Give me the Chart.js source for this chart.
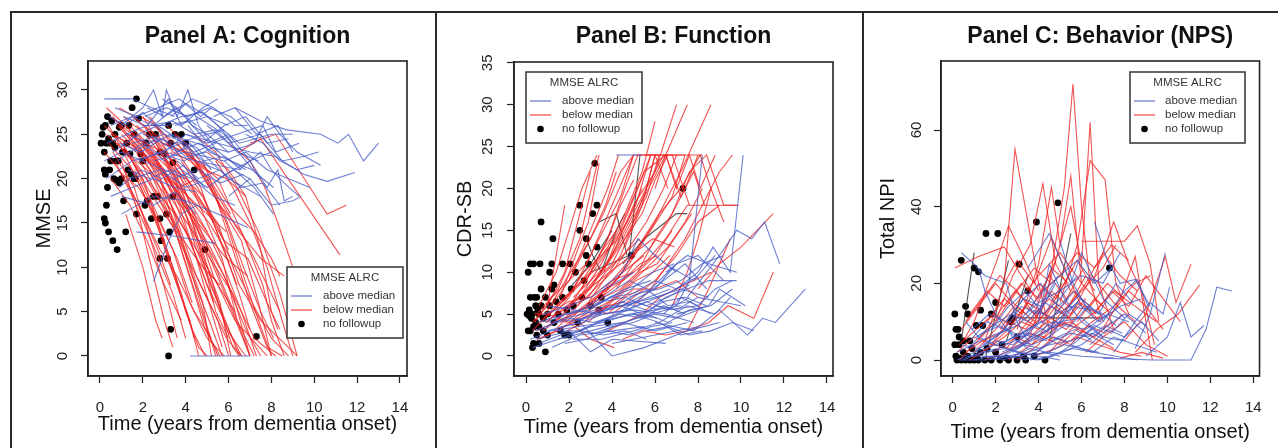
<!DOCTYPE html>
<html><head><meta charset="utf-8">
<script src="https://cdn.jsdelivr.net/npm/chart.js@4.4.1/dist/chart.umd.min.js"></script>
<style>
html,body{margin:0;padding:0;background:#fff;}
#wrap{position:relative;width:1278px;height:448px;overflow:hidden;background:#fff;}
canvas{position:absolute;top:0;}
.fr{position:absolute;background:#2a2a2a;}
</style></head><body>
<div id="wrap">
<canvas id="cA" width="435" height="448" style="left:0px"></canvas>
<canvas id="cB" width="425" height="448" style="left:437px"></canvas>
<canvas id="cC" width="414" height="448" style="left:864px"></canvas>
<div class="fr" style="left:10px;top:11px;width:1268px;height:2px"></div>
<div class="fr" style="left:10px;top:11px;width:2px;height:437px"></div>
<div class="fr" style="left:435px;top:11px;width:2px;height:437px"></div>
<div class="fr" style="left:862px;top:11px;width:2px;height:437px"></div>
</div>
<script>
// ---------- tick labels ----------
const xTicks = [0, 2, 4, 6, 8, 10, 12, 14];
const yTicksA = [0, 5, 10, 15, 20, 25, 30];
const yTicksB = [0, 5, 10, 15, 20, 25, 30, 35];
const yTicksC = [0, 20, 40, 60];
const legendTitle = 'MMSE ALRC';
const legendLabels = ['above median', 'below median', 'no followup'];

// ---------- Panel A: MMSE trajectories (x,y pairs) ----------
const A_above = [
 [0.2,29, 1.5,29, 2.4,28, 3.5,27],
 [1.0,26, 2.0,28, 2.5,30, 2.9,27, 3.1,30, 3.6,27, 4.1,30, 4.6,26, 5.5,23],
 [6.3,28, 7.5,26.5, 8.7,25.5, 10.3,25, 11.1,24, 11.6,25, 12.3,22, 13.0,24],
 [4.0,25, 5.5,24, 7.0,23, 8.2,22.5, 9.5,20.5, 10.6,19.7, 11.9,20.7],
 [3.5,26, 5.0,27, 6.5,24, 8.0,25, 9.0,25],
 [5.0,26, 6.0,24, 7.5,25, 8.5,22, 9.5,22.5, 10.2,23],
 [4.5,22, 6.5,21, 7.5,23, 8.0,21, 8.6,19.5, 9.3,18],
 [5.5,20, 7.0,22, 7.8,19, 8.3,21, 8.6,17.5, 9.0,18],
 [2.5,22, 4.0,23, 5.8,22, 7.2,19, 8.1,16],
 [1.5,24, 3.0,25, 4.5,23.5, 6.0,20, 7.5,18],
 [1.7,14, 3.5,13.5, 5.4,12.7],
 [1.0,16, 2.5,18, 4.0,17.5, 5.5,16, 6.9,14.5],
 [4.2,0, 7.0,0],
 [2.5,8.4, 3.2,13, 3.8,16, 4.5,17],
 [0.3,20, 1.5,22, 3.0,23, 4.5,22, 5.5,21],
 [0.5,26, 1.5,27, 2.5,26, 3.5,28, 4.5,26],
 [1.2,25, 2.2,26, 3.2,29, 3.8,26, 4.8,28, 5.5,29],
 [2.0,25, 3.5,24, 5.0,25, 6.0,23],
 [0.8,22, 2.0,24, 3.0,22, 4.2,24, 5.2,21],
 [2.8,26, 3.8,27, 4.8,27.5, 5.5,26, 6.2,24],
 [3.2,25, 4.5,24, 6.0,23, 7.2,24],
 [1.5,20, 2.8,21, 4.0,19, 5.2,20],
 [0.6,23, 1.8,25, 2.7,26, 3.3,25],
 [4.5,27, 5.8,25, 6.8,22, 7.5,20],
 [2.2,28, 3.0,27, 4.0,28.5, 5.0,27, 6.0,26],
 [1.0,18, 2.5,17, 3.5,18.5, 4.5,16],
 [3.8,21, 5.0,19, 6.2,21, 7.0,20],
 [0.4,27, 1.2,26, 2.0,27.5, 3.0,25],
 [5.2,24, 6.4,25, 7.6,26, 8.2,23, 9.3,24],
 [6.0,18, 7.0,20, 8.0,17, 9.0,17.5, 9.4,18],
 [2.6,23, 3.9,22, 5.3,23.5, 6.6,21],
 [3.4,20, 4.6,21, 5.6,19.5, 6.7,20.5],
 [7.2,24, 7.8,27, 8.4,25, 9.2,23, 10.3,21.5],
 [0.9,24, 1.9,23, 2.9,24.5, 4.0,22.5, 5.0,23],
 [0.3,24, 1.3,25, 2.3,24, 3.4,25, 4.4,23, 5.4,24],
 [1.8,22, 2.8,23, 3.8,24, 4.8,22, 5.8,22.5, 6.8,21],
 [2.4,26, 3.4,26.5, 4.4,25, 5.4,25.5, 6.4,23, 7.4,22],
 [0.7,28, 1.7,27, 2.7,28, 3.7,29, 4.7,27, 5.2,28],
 [3.0,23, 4.0,25, 5.0,24, 6.0,25, 7.0,22, 8.0,23],
 [1.3,21, 2.3,20, 3.3,21, 4.3,20, 5.3,18, 6.3,17],
 [4.8,24, 5.8,26, 6.8,27, 7.8,24, 8.8,24.5],
 [0.9,19, 1.9,21, 2.9,20, 3.9,21.5, 4.9,19],
 [2.1,27, 3.1,28, 4.1,27, 5.1,28, 6.1,27, 7.1,25],
 [3.6,22, 4.6,20, 5.6,21, 6.6,19, 7.6,19.5, 8.4,17],
 [5.8,22, 6.8,23, 7.8,21, 8.8,20, 9.8,19],
 [1.6,23, 2.6,24.5, 3.6,23, 4.6,24, 5.6,22.5],
 [0.5,18, 1.5,19, 2.5,20, 3.5,19, 4.5,18.5],
 [6.8,25, 7.6,24, 8.4,22, 9.2,21, 10.0,21.5],
 [2.9,29, 3.6,28, 4.3,26, 5.0,25, 5.8,25.5],
 [4.1,26, 5.1,23, 6.1,22, 7.1,21, 8.1,19],
 [1.1,27, 2.1,26, 3.1,26, 4.1,26.5, 5.1,24],
 [3.3,27, 4.3,29, 5.3,28, 6.3,26, 6.9,26],
 [0.2,22, 1.0,23, 2.0,22, 3.0,21, 4.0,20],
 [5.3,27, 6.3,28, 7.3,25, 8.3,26, 9.0,23]
];
const A_below = [
 [0.3,28, 1.2,26, 2.5,22, 3.5,16, 4.5,9, 5.5,4, 6.0,0],
 [0.5,27, 1.5,25, 2.8,20, 3.8,12, 5.0,3, 5.5,0],
 [0.8,26, 2.0,23, 3.2,18, 4.2,10, 5.4,0],
 [1.0,25, 2.2,22, 3.5,19, 4.8,13, 6.0,6, 7.0,0],
 [1.2,26, 2.0,24, 3.0,21, 4.4,15, 5.8,9, 6.8,3, 7.5,0],
 [0.4,24, 1.5,21, 2.5,16, 3.3,10, 4.2,4, 4.6,0],
 [0.6,23, 1.6,19, 2.5,12, 3.2,6, 3.6,2],
 [1.8,25, 3.0,22, 4.0,17, 5.2,12, 6.2,7, 7.2,2, 8.2,0],
 [1.5,24, 2.8,21, 4.0,16, 5.2,8, 6.5,0],
 [2.0,27, 3.0,23, 4.2,19, 5.5,15, 6.5,8, 7.5,4, 9.2,0],
 [0.2,26, 1.0,24, 2.0,20, 3.0,13, 3.8,7, 4.4,2],
 [1.0,22, 1.8,16, 2.5,9, 3.0,4, 3.4,1],
 [1.2,16, 2.0,10, 2.6,4, 2.9,2],
 [1.5,27, 2.6,25, 3.6,21, 4.8,18, 5.8,13, 6.9,11, 7.8,6, 8.4,3],
 [2.5,26, 3.5,24, 4.5,22, 5.5,18, 6.5,14, 7.5,11, 8.6,9],
 [3.0,24, 4.0,23, 5.5,20, 6.8,12.9, 7.6,8, 8.0,4, 8.6,0],
 [7.0,24, 8.2,25, 10.6,16, 11.5,17],
 [6.5,23, 7.5,24.5, 11.2,11.4],
 [0.9,28, 1.6,27, 2.4,25, 3.5,20, 4.5,12, 5.5,6, 6.2,1, 6.5,0],
 [2.2,24, 3.2,20, 4.4,14, 5.6,6, 6.1,0],
 [1.3,23, 2.3,18, 3.4,12, 4.2,6, 5.0,2, 5.8,0],
 [2.7,25, 3.8,20, 4.6,14, 5.3,9, 6.3,4, 7.8,0],
 [3.5,25, 4.4,22, 5.4,18, 6.2,12, 7.0,6, 7.8,1, 8.5,0],
 [0.7,25, 1.7,23, 2.7,18, 3.7,14, 4.8,6, 5.2,0],
 [4.0,24, 5.0,21, 6.0,17, 7.2,14, 8.0,11, 8.4,9],
 [0.5,20, 1.4,17, 2.2,13, 3.0,8, 3.8,4],
 [1.6,21, 2.4,17, 3.4,10, 4.0,5, 4.6,1, 5.0,0],
 [2.4,23, 3.3,21, 4.3,17, 5.0,14, 5.8,10, 6.6,5, 7.3,0],
 [1.1,27, 2.1,25, 3.1,22, 4.1,19, 5.1,16, 6.0,12],
 [3.8,22, 4.8,18, 5.8,12, 6.5,7, 7.0,3],
 [0.3,25, 1.2,23, 2.2,21, 3.1,18, 4.0,14, 4.7,10, 5.3,6],
 [4.4,25, 5.4,23, 6.4,19, 7.4,14, 8.4,7, 9.2,0],
 [2.0,22, 3.0,19, 3.8,16, 4.6,13, 5.4,10, 6.2,7, 7.0,0],
 [5.0,23, 6.0,21, 6.8,18, 7.5,12, 8.0,5, 8.3,3],
 [1.4,25, 2.3,23, 3.2,20, 4.1,17, 5.0,14],
 [0.6,27, 1.3,25, 2.0,23, 2.9,21, 3.7,19, 4.5,20],
 [2.9,24, 3.9,23, 4.9,21, 5.9,20, 6.8,18],
 [3.0,20, 3.7,17, 4.5,11, 5.2,5, 5.7,1],
 [1.9,27, 2.6,26, 3.4,23, 4.2,22, 5.1,20, 6.1,16],
 [0.8,21, 1.8,19, 2.8,15, 3.6,11, 4.3,6],
 [6.0,24, 7.0,22, 7.7,19, 8.3,15, 9.0,10],
 [3.3,23, 4.3,19, 5.0,15, 5.7,11, 6.4,4, 7.0,0],
 [1.7,26, 2.7,24, 3.9,18, 4.9,11, 5.9,3, 6.8,0],
 [2.3,21, 3.4,15, 4.3,8, 4.9,3, 5.6,0],
 [4.8,22, 5.6,17, 6.6,13, 7.4,6, 8.0,0],
 [0.4,26, 1.1,23, 1.9,19, 2.8,14, 3.6,8, 4.3,3, 4.9,0],
 [1.0,24, 1.9,21, 2.9,17, 3.9,12, 4.9,7, 5.9,2, 6.6,0],
 [0.7,22, 1.5,18, 2.4,13, 3.4,7, 4.0,2],
 [1.4,26, 2.4,23, 3.4,19, 4.4,16, 5.4,10, 6.4,4, 7.2,0],
 [2.1,26, 3.1,22, 4.1,18, 5.1,15, 6.1,11, 7.1,6, 8.0,2, 8.8,0],
 [0.2,23, 0.9,21, 1.8,17, 2.7,12, 3.3,8],
 [1.2,20, 2.0,16, 2.8,12, 3.6,9, 4.4,5, 5.2,2],
 [2.6,22, 3.4,18, 4.2,13, 5.0,8, 5.8,4, 6.6,0],
 [0.5,25, 1.4,24, 2.3,22, 3.2,20, 4.1,18, 5.0,16, 5.9,14],
 [3.1,26, 4.0,24, 4.9,20, 5.8,16, 6.7,10, 7.5,5, 8.1,2],
 [1.9,24, 2.9,21, 3.9,17, 4.9,14, 5.9,11, 6.9,9],
 [0.9,26, 1.8,23, 2.6,20, 3.5,15, 4.3,9, 5.1,4, 5.7,0],
 [4.2,23, 5.0,20, 5.9,15, 6.7,9, 7.4,4, 8.0,0],
 [2.3,27, 3.0,25, 3.9,22, 4.7,19, 5.6,13, 6.4,8],
 [1.5,22, 2.5,19, 3.5,16, 4.5,12, 5.5,8, 6.3,5],
 [0.8,24, 1.5,22, 2.2,19, 3.0,16, 3.9,13, 4.8,10, 5.6,8],
 [3.6,24, 4.6,21, 5.6,17, 6.6,14, 7.6,9, 8.4,5],
 [5.4,22, 6.2,19, 7.0,15, 7.8,10, 8.5,4, 9.0,0],
 [1.3,25, 2.1,24, 3.0,23, 3.8,21, 4.6,18, 5.3,15],
 [2.8,23, 3.5,21, 4.2,16, 4.9,10, 5.4,5, 6.0,2]
];
const A_nofollow = [
 0.05,24, 0.1,25, 0.15,25.8, 0.2,23, 0.25,26, 0.3,24, 0.35,27, 0.4,24.5, 0.2,21, 0.25,20.5,
 0.35,19, 0.3,17, 0.2,15.5, 0.25,15, 0.4,14, 0.6,13, 0.8,12, 0.5,22, 0.6,24, 0.7,23.5,
 0.75,22, 0.65,20, 0.8,19.8, 0.9,19.5, 1.0,20, 1.1,17.5, 1.2,14, 0.9,25.8, 1.0,26, 1.1,23,
 1.3,21, 1.4,22.8, 1.5,28, 1.6,25, 1.7,16, 1.6,20, 1.8,26.8, 1.7,29, 1.9,22.8, 2.0,22,
 2.2,17.5, 2.1,17, 2.4,15.5, 2.3,25, 2.5,18, 2.6,25, 2.8,23, 2.7,18, 2.8,15.5, 2.85,13,
 2.8,11, 3.0,22.8, 3.1,16, 3.15,11, 3.2,26, 3.25,14, 3.3,24, 3.4,21.8, 3.4,18, 3.5,25,
 3.8,25, 4.0,24, 4.4,21, 3.3,3, 3.2,0, 4.9,12, 7.3,2.2, 1.25,24, 1.45,20.5, 0.55,26.5,
 0.45,21, 1.05,23, 2.15,24, 0.7,25, 0.5,24, 0.85,22, 1.35,26, 1.65,20
];

// ---------- Panel B: CDR-SB trajectories ----------
const B_above = [
 [0.3,1, 1.5,2, 3.0,3, 4.5,4, 6.5,5.5, 8.0,6],
 [0.5,2, 2.0,3, 3.0,0.5, 4.0,2, 6.5,1.5],
 [4.0,1.5, 6.0,2.5, 8.0,3.5],
 [1.0,3, 2.5,4, 4.0,0, 5.5,1, 7.5,3, 9.0,4],
 [6.0,4, 7.8,3, 9.0,5.5, 10.3,2.5, 11.0,4.5, 11.6,4, 13.0,8],
 [7.5,7, 9.0,12, 9.8,15, 10.5,14, 11.1,16, 11.8,11],
 [8.0,10, 8.7,13, 9.5,10, 10.1,24],
 [7.0,6, 7.6,9, 8.2,24],
 [5.5,5, 6.5,7, 7.5,8, 8.5,9, 9.8,9],
 [6.5,10, 7.5,12, 8.5,11, 9.8,10],
 [4.5,6, 6.0,8, 7.0,11, 8.0,12, 9.2,9],
 [7.0,5, 8.5,6, 9.0,8, 10.2,6],
 [3.0,5, 4.5,6, 6.0,7, 7.2,8, 8.5,7],
 [2.0,4, 3.5,5, 5.0,5.5, 6.5,5, 7.8,4],
 [1.5,2, 3.0,3.5, 4.5,4, 6.0,3, 7.5,4],
 [0.5,4, 1.8,5, 3.2,6, 4.6,8, 5.8,9],
 [2.5,3, 3.8,4.5, 5.2,6, 6.6,7.5, 8.0,9.5],
 [4.2,24, 5.4,24],
 [1.2,1, 2.5,2.5, 4.0,3, 5.5,3.5],
 [3.5,8, 4.5,10, 5.2,14, 6.0,12, 7.0,10],
 [0.8,5, 2.0,6, 3.0,7, 4.0,8.5, 5.0,10],
 [5.0,5, 6.2,4, 7.5,6, 8.8,5, 9.5,7],
 [2.2,2, 3.5,2, 5.0,3, 6.2,4, 7.2,2.5, 8.2,3],
 [4.8,7, 5.8,8, 6.8,10.5, 7.8,9, 8.8,12],
 [1.0,6, 2.2,5.5, 3.4,5, 4.4,6.5, 5.6,5.5],
 [6.0,6, 7.0,5.5, 8.0,7, 9.0,6.5, 10.0,6],
 [0.4,3, 1.4,4, 2.6,4.5, 3.8,5.5, 5.0,6.5, 6.2,5.5],
 [3.2,4, 4.2,5, 5.4,7, 6.4,9, 7.4,11, 8.4,8],
 [2.8,6, 3.6,7, 4.8,9, 5.6,8, 6.6,6, 7.6,6.5, 8.6,5],
 [0.2,2, 1.2,3, 2.4,3.5, 3.6,4, 4.8,5, 6.0,5.5, 7.2,6],
 [0.7,3, 1.7,4.5, 2.7,5, 3.7,6, 4.7,6, 5.7,7, 6.7,8],
 [1.4,3, 2.4,3, 3.4,4, 4.4,5, 5.4,4.5, 6.4,6, 7.4,5],
 [2.0,5, 3.0,6, 4.0,7, 5.0,7.5, 6.0,9, 7.0,8, 8.0,10],
 [3.6,3, 4.6,4, 5.6,5, 6.6,4, 7.6,5.5, 8.6,6, 9.6,8],
 [1.8,1.5, 2.8,2, 3.8,3, 4.8,2.5, 5.8,3.5, 6.8,4],
 [0.9,4, 1.9,5, 2.9,5.5, 3.9,7, 4.9,8, 5.9,10, 6.9,11],
 [2.4,4, 3.4,5.5, 4.4,6, 5.4,5, 6.4,6.5, 7.4,7, 8.4,6],
 [4.2,6, 5.2,7.5, 6.2,8, 7.2,9, 8.2,11, 9.2,12],
 [5.6,3, 6.6,3.5, 7.6,2.5, 8.6,3, 9.6,4, 10.6,3],
 [1.1,4, 2.1,4.5, 3.1,4, 4.1,4.5, 5.1,5, 6.1,4.5],
 [3.0,2.5, 4.0,3.5, 5.0,4, 6.0,5, 7.0,4.5, 8.0,5.5],
 [0.6,1.5, 1.6,2.5, 2.6,3, 3.6,2.5, 4.6,3, 5.6,2],
 [6.4,5, 7.2,7, 8.0,6, 8.8,8, 9.6,9],
 [2.6,5, 3.6,6.5, 4.6,7, 5.6,6, 6.6,7, 7.6,8.5],
 [1.6,3.5, 2.6,4, 3.6,5, 4.6,5.5, 5.6,6.5, 6.6,5.5, 7.6,7]
];
const B_below = [
 [0.5,5, 1.5,8, 2.5,14, 3.4,24],
 [1.0,4, 2.0,7, 3.0,12, 4.0,18, 5.0,24, 6.0,24, 6.6,20],
 [1.5,5, 2.5,7, 3.5,11, 4.5,16, 5.5,22, 6.5,24, 7.5,24, 8.2,24],
 [2.0,6, 3.0,8, 4.0,12, 5.0,18, 6.0,22, 7.0,30],
 [2.5,7, 3.5,10, 4.5,14, 5.5,19, 6.5,24, 7.5,30],
 [3.0,6, 4.0,9, 5.0,12, 6.0,16, 7.2,22, 8.6,30],
 [0.3,4, 1.0,6, 1.8,10, 2.5,17, 3.0,22],
 [0.8,3, 1.8,5, 2.8,9, 3.8,14, 4.6,20, 5.2,24, 6.2,24],
 [1.2,6, 2.0,9, 3.0,15, 3.8,20, 4.3,24],
 [2.2,5, 3.2,7, 4.2,9, 5.2,13, 6.2,17, 7.2,20, 8.1,24, 8.6,20, 9.2,16],
 [3.5,7, 4.5,9, 5.5,11, 6.5,14, 7.5,18, 8.5,18, 9.8,18],
 [4.0,5, 5.0,7, 6.0,9, 7.0,12, 8.0,16, 9.0,18],
 [1.8,4, 2.8,6, 3.8,8, 4.8,11, 5.8,15, 6.8,19, 7.4,24],
 [0.5,2, 1.5,3, 2.5,5, 3.5,7, 4.5,10, 5.5,12],
 [1.0,5, 2.0,6.5, 3.0,7, 4.0,9, 5.0,10],
 [5.5,24, 6.5,24, 7.0,20, 7.6,24, 8.1,20, 8.8,24],
 [6.0,20, 6.5,24, 7.2,19, 7.8,22, 8.3,18],
 [7.5,3, 8.5,4, 9.4,6, 10.6,4.5, 11.5,10],
 [8.0,8, 9.0,11, 10.0,13, 11.5,17],
 [4.5,2, 5.5,3, 6.5,2.5, 7.5,3, 8.5,8, 9.5,14],
 [0.6,6, 1.4,10, 2.0,15, 2.6,20, 3.3,24],
 [1.6,7, 2.3,12, 2.9,16, 3.4,23],
 [2.8,6, 3.6,9, 4.4,12, 5.0,16, 5.6,20, 6.0,24],
 [3.2,9, 4.2,13, 5.0,17, 5.8,21, 6.4,24, 7.4,24],
 [1.4,4, 2.2,5, 3.0,6, 3.8,5, 4.6,7, 5.4,8],
 [0.4,5, 1.0,5, 2.0,4, 3.0,2, 4.1,1],
 [1.0,6, 1.8,18],
 [3.6,10, 4.4,15, 5.2,20, 5.8,24],
 [4.2,8, 5.0,11, 5.8,13, 6.6,16, 7.4,20, 8.0,24],
 [2.6,8, 3.2,11, 3.8,14, 4.4,18, 5.0,21],
 [5.2,10, 6.0,14, 6.8,17, 7.6,22, 8.4,24, 9.2,18, 9.9,18],
 [0.9,4, 1.9,6, 2.9,8, 3.9,10, 4.9,12, 5.9,14, 6.9,13],
 [3.0,5, 4.0,6, 5.0,8, 6.0,8, 7.0,9, 8.0,7],
 [6.8,6, 7.5,10, 8.0,14, 8.6,20],
 [4.6,13, 5.4,18, 6.0,24, 6.8,24, 7.6,18],
 [2.0,9, 2.8,13, 3.6,17, 4.4,22, 5.0,24],
 [0.3,3, 1.0,5, 1.8,7, 2.6,9, 3.4,12, 4.2,15],
 [0.7,4, 1.5,6, 2.3,8, 3.1,10, 3.9,13, 4.7,16, 5.4,20],
 [1.1,5, 1.9,7, 2.7,10, 3.5,12, 4.3,14, 5.1,18, 5.8,24],
 [1.6,4, 2.4,6, 3.2,9, 4.0,11, 4.8,15, 5.6,19, 6.2,24],
 [0.5,3, 1.3,4, 2.1,6, 2.9,7, 3.7,10, 4.5,12, 5.3,14],
 [2.0,4, 2.8,5, 3.6,7, 4.4,8, 5.2,10, 6.0,12, 6.8,15],
 [0.9,5, 1.6,8, 2.3,11, 3.0,14, 3.7,18, 4.2,22],
 [1.3,3, 2.1,5, 2.9,6, 3.7,8, 4.5,9, 5.3,11, 6.1,12],
 [2.4,6, 3.2,8, 4.0,10, 4.8,13, 5.6,16, 6.4,20, 7.0,24],
 [3.4,5, 4.2,7, 5.0,9, 5.8,11, 6.6,13, 7.4,16, 8.2,20],
 [0.4,4, 1.2,7, 2.0,9, 2.8,11, 3.6,15, 4.4,19, 5.0,24],
 [1.9,3, 2.7,4, 3.5,6, 4.3,7, 5.1,9, 5.9,10, 6.7,12],
 [2.9,4, 3.7,6, 4.5,8, 5.3,10, 6.1,11, 6.9,14, 7.7,17],
 [1.4,6, 2.2,8, 3.0,10, 3.8,13, 4.6,17, 5.4,22, 6.0,28],
 [0.6,2, 1.4,3, 2.2,4, 3.0,5, 3.8,6, 4.6,6.5],
 [5.0,6, 5.8,8, 6.6,11, 7.4,14, 8.2,18, 9.0,22, 9.6,24],
 [3.8,3, 4.6,4, 5.4,5, 6.2,7, 7.0,8, 7.8,9, 8.6,10],
 [2.2,7, 3.0,9, 3.8,11, 4.6,14, 5.4,17, 6.0,21, 6.6,24]
];
const B_other = [
 [2.8,14, 3.1,12, 3.5,10, 4.2,15, 4.6,17],
 [3.0,10, 4.8,12, 5.3,24],
 [4.5,11, 5.5,14, 7.0,17, 7.5,17],
 [2.0,8, 3.0,11, 4.0,15],
 [3.4,16, 4.2,17, 4.7,12]
];
const B_nofollow = [
 0.1,10, 0.2,11, 0.35,11, 0.65,11, 0.7,16, 1.25,14, 1.2,11, 1.7,11, 2.05,11, 2.5,18,
 2.5,15, 3.2,23, 3.3,18, 3.1,17, 2.8,14, 2.8,12, 3.3,13, 4.9,12, 7.3,20, 3.8,4,
 0.05,5, 0.1,3, 0.2,3, 0.15,4.8, 0.25,4.5, 0.3,5, 0.35,3.5, 0.3,1, 0.35,1.5, 0.6,1.5,
 0.9,0.5, 0.4,7, 0.5,7, 0.2,7, 0.45,6, 0.55,5.5, 0.6,5, 0.7,6, 0.8,4.5, 0.7,8,
 0.9,7, 1.0,5, 1.1,6, 1.2,8, 1.3,8.5, 1.4,6.5, 1.5,5, 1.6,3, 1.8,2.5, 1.9,5.5,
 2.0,2.5, 2.1,8, 2.2,6, 2.4,4, 2.6,7, 2.9,11, 3.0,6, 3.4,5.5, 0.5,2.5, 0.6,3.5,
 0.8,3, 1.0,2.5, 1.3,4, 0.15,5.5, 0.45,4, 2.3,10, 1.1,10, 2.7,9, 3.5,7, 1.7,7
];

// ---------- Panel C: Total NPI trajectories ----------
const C_above = [
 [7.0,0.5, 9.3,0, 11.1,0, 11.8,8, 12.3,19, 13.0,18],
 [9.0,1, 10.0,6, 10.6,15, 11.1,6, 11.7,9],
 [8.5,3, 9.2,12, 9.9,28],
 [7.5,2, 8.5,10, 9.2,15, 9.8,12, 10.1,19],
 [6.6,36, 7.2,26, 7.8,20, 8.5,21, 9.2,14],
 [3.5,24, 4.5,33, 5.5,20, 6.0,28, 7.0,16, 8.0,11],
 [0.4,28, 1.0,25, 1.5,22, 2.5,20, 3.0,10, 3.5,5],
 [0.5,1, 1.5,3, 2.5,5, 3.5,8, 4.5,11, 5.5,14, 6.5,13],
 [0.3,0, 1.5,0, 3.0,1, 4.5,2, 6.0,1, 7.5,0.5],
 [1.0,2, 2.0,6, 3.0,10, 4.0,15, 5.0,18, 6.0,22, 7.0,20, 7.8,28],
 [2.0,0, 3.0,3, 4.0,6, 5.0,10, 6.0,11, 7.0,6, 8.0,5],
 [0.8,5, 1.6,10, 2.4,8, 3.2,14, 4.0,12, 4.8,20],
 [1.5,1, 2.5,1, 3.5,2, 4.5,4, 5.5,5, 6.5,7, 7.5,4],
 [2.8,2, 3.8,6, 4.8,9, 5.8,15, 6.8,10, 7.8,14, 8.8,16],
 [4.0,0, 5.0,2, 6.0,4, 7.0,8, 8.0,12, 9.0,7],
 [5.0,31, 5.6,20, 6.2,14, 7.0,12, 7.6,9],
 [1.2,24, 1.5,18, 2.0,12, 2.8,6, 3.5,3],
 [0.6,10, 1.2,6, 2.0,4, 3.0,2, 4.0,1, 5.0,0],
 [3.0,5, 4.0,10, 4.5,25, 5.2,16, 6.0,10, 7.0,6],
 [6.0,6, 7.0,10, 8.0,18, 8.6,21, 9.1,14],
 [0.2,0, 0.8,1, 1.6,2, 2.4,3, 3.2,2],
 [2.2,4, 3.2,7, 4.2,5, 5.2,9, 6.2,8, 7.2,12, 8.2,10],
 [5.5,4, 6.5,2, 7.5,6, 8.5,4, 9.5,2],
 [1.8,8, 2.6,14, 3.4,18, 4.2,12, 5.0,16, 5.8,22],
 [3.6,0, 4.6,1, 5.6,3, 6.6,2, 7.6,1, 8.6,0],
 [0.7,3, 1.4,7, 2.2,9, 3.0,6, 3.8,9, 4.6,7, 5.4,12],
 [2.5,10, 3.3,16, 4.1,20, 4.9,14, 5.7,18, 6.5,12],
 [0.2,2, 0.9,4, 1.7,6, 2.5,8, 3.3,6, 4.1,10, 4.9,8],
 [0.5,0, 1.3,2, 2.1,3, 2.9,5, 3.7,4, 4.5,6, 5.3,5],
 [1.1,6, 1.9,9, 2.7,12, 3.5,10, 4.3,15, 5.1,12, 5.9,17],
 [1.7,0, 2.5,2, 3.3,4, 4.1,3, 4.9,6, 5.7,8, 6.5,5],
 [2.3,2, 3.1,4, 3.9,7, 4.7,10, 5.5,9, 6.3,14, 7.1,11],
 [0.9,8, 1.7,12, 2.5,10, 3.3,16, 4.1,14, 4.9,22],
 [3.1,1, 3.9,2, 4.7,5, 5.5,7, 6.3,6, 7.1,9, 7.9,7],
 [0.4,4, 1.2,3, 2.0,5, 2.8,4, 3.6,7, 4.4,5],
 [4.4,8, 5.2,12, 6.0,16, 6.8,12, 7.6,20, 8.4,15],
 [2.0,1, 2.8,1, 3.6,3, 4.4,2, 5.2,4, 6.0,3, 6.8,2],
 [5.0,2, 5.8,5, 6.6,9, 7.4,7, 8.2,12, 9.0,9],
 [1.4,4, 2.2,7, 3.0,9, 3.8,13, 4.6,11, 5.4,16],
 [0.7,1, 1.5,1, 2.3,0, 3.1,1, 3.9,0, 4.7,1],
 [3.4,12, 4.2,18, 5.0,22, 5.8,26, 6.6,20, 7.4,24],
 [6.4,4, 7.2,8, 8.0,6, 8.8,10, 9.6,5],
 [1.0,0, 1.8,1, 2.6,1, 3.4,0, 4.2,2, 5.0,1]
];
const C_below = [
 [3.5,5, 4.5,20, 5.2,45, 5.6,72, 6.0,40, 6.4,20, 7.0,10],
 [1.5,5, 2.4,20, 2.9,55, 3.5,36, 4.0,20, 4.5,8],
 [4.0,10, 5.0,30, 5.5,40, 6.0,25, 6.4,62, 6.8,20, 7.5,8],
 [5.0,15, 5.8,30, 6.4,52, 7.1,47, 7.6,20, 8.2,12],
 [3.0,8, 4.0,25, 4.6,45, 5.0,30, 5.5,48, 6.0,20],
 [0.1,24, 1.2,27, 2.4,29.5, 3.2,22, 4.0,15],
 [0.5,5, 1.0,10, 2.0,25, 2.6,35, 3.2,28, 4.0,18],
 [2.0,10, 2.8,22, 3.6,30, 4.2,46, 4.8,25, 5.5,18],
 [6.0,31, 8.0,31, 8.6,35, 9.2,25, 9.6,10],
 [6.5,20, 7.5,36, 8.2,25, 8.8,18, 9.4,4],
 [8.0,5, 9.0,12, 9.9,27, 10.4,15, 11.1,25],
 [8.5,2, 9.5,8, 10.5,12, 11.5,19.6],
 [7.0,8, 7.8,16, 8.5,27, 9.0,10, 9.3,0],
 [1.0,2, 2.0,8, 3.0,15, 4.0,22, 5.0,28, 6.0,20, 7.0,14],
 [0.3,0, 1.0,4, 2.0,10, 3.0,18, 3.8,12, 4.6,24, 5.4,20],
 [2.5,3, 3.5,10, 4.5,16, 5.5,12, 6.5,22, 7.5,15, 8.5,10],
 [4.5,2, 5.5,8, 6.5,12, 7.5,18, 8.5,14, 9.5,10],
 [0.8,12, 1.6,18, 2.4,14, 3.2,20, 4.0,16, 4.8,26],
 [1.5,0, 2.5,2, 3.5,5, 4.5,8, 5.5,10, 6.5,6, 7.5,3],
 [3.0,0, 4.0,4, 5.0,12, 6.0,18, 7.0,24, 7.6,30],
 [5.5,5, 6.5,10, 7.5,14, 8.5,20, 9.2,22],
 [2.2,18, 3.0,26, 3.8,20, 4.6,32, 5.2,24, 6.0,14],
 [0.4,8, 1.2,14, 2.0,20, 2.6,16, 3.4,12],
 [6.2,2, 7.0,6, 8.0,10, 9.0,4, 10.0,1],
 [4.2,18, 5.0,22, 5.8,28, 6.6,24, 7.4,30, 8.2,26],
 [3.8,1, 4.8,3, 5.8,6, 6.8,4, 7.8,2, 8.8,1],
 [1.8,4, 2.6,8, 3.4,14, 4.2,10, 5.0,18, 5.8,26, 6.6,18],
 [7.8,0.5, 8.8,2, 9.8,0.5],
 [0.6,2, 1.4,5, 2.2,7, 3.0,12, 3.8,9, 4.6,14, 5.4,11, 6.2,16],
 [0.3,4, 1.1,8, 1.9,12, 2.7,9, 3.5,15, 4.3,12, 5.1,20],
 [0.8,0, 1.6,3, 2.4,6, 3.2,10, 4.0,8, 4.8,14, 5.6,10],
 [1.3,6, 2.1,12, 2.9,18, 3.7,14, 4.5,22, 5.3,16, 6.1,24],
 [1.9,2, 2.7,5, 3.5,8, 4.3,12, 5.1,9, 5.9,15, 6.7,12],
 [2.6,0, 3.4,3, 4.2,6, 5.0,4, 5.8,8, 6.6,6, 7.4,10],
 [0.6,10, 1.4,16, 2.2,22, 3.0,18, 3.8,24, 4.6,20],
 [3.2,4, 4.0,8, 4.8,12, 5.6,18, 6.4,14, 7.2,20, 8.0,16],
 [1.1,1, 1.9,4, 2.7,3, 3.5,7, 4.3,6, 5.1,10, 5.9,8],
 [4.6,6, 5.4,14, 6.2,20, 7.0,28, 7.8,22, 8.6,18],
 [2.2,8, 3.0,14, 3.8,10, 4.6,18, 5.4,14, 6.2,22],
 [5.8,10, 6.6,16, 7.4,12, 8.2,18, 9.0,14, 9.8,8],
 [0.2,2, 1.0,6, 1.8,4, 2.6,10, 3.4,8, 4.2,14],
 [3.9,2, 4.7,6, 5.5,4, 6.3,9, 7.1,7, 7.9,12],
 [1.6,10, 2.4,16, 3.2,12, 4.0,20, 4.8,16, 5.6,24],
 [6.6,12, 7.4,18, 8.2,14, 9.0,22, 9.8,16, 10.6,10],
 [2.9,6, 3.7,4, 4.5,10, 5.3,8, 6.1,14, 6.9,10]
];
const C_other = [
 [0.4,5, 1.0,28],
 [2.5,5, 3.5,22],
 [4.5,5, 5.5,33],
 [1.5,0, 2.6,26],
 [3.0,11, 5.0,11, 7.0,11]
];
const C_nofollow = [
 0.1,12, 0.15,8, 0.25,8, 0.3,6, 0.1,4, 0.3,4, 0.4,26, 0.6,14, 0.7,12, 1.0,24,
 1.2,23, 1.55,33, 2.1,33, 3.1,25, 3.9,36, 4.9,41, 7.3,24, 2.0,15, 2.7,10, 2.8,11,
 3.5,18, 1.3,13, 1.8,12, 3.0,6, 2.3,4, 1.1,9, 1.4,9, 0.5,5, 0.8,5, 3.8,1,
 4.3,0, 0.2,0, 0.4,0, 0.6,0, 0.8,0, 1.0,0, 1.2,0, 1.5,0, 1.8,0, 2.2,0,
 2.6,0, 3.0,0, 3.4,0, 0.3,0.5, 0.7,1, 1.1,1, 2.0,2, 1.6,3, 2.5,0.5, 3.3,1,
 0.5,2, 0.9,3, 1.3,2, 0.15,1, 0.6,0.5
];

// ---------- styles ----------
const FONT = '"Liberation Sans", Arial, Helvetica, sans-serif';
const COL_ABOVE = 'rgba(70,92,198,0.78)';
const COL_BELOW = 'rgba(240,35,35,0.78)';
const COL_OTHER = 'rgba(40,40,40,0.8)';

function toPts(flat){ const p=[]; for(let i=0;i<flat.length;i+=2) p.push({x:flat[i], y:flat[i+1]}); return p; }
function lineSets(list, color){
  return list.map(t => ({data: toPts(t), showLine:true, borderColor:color, borderWidth:1.1,
    pointRadius:0, pointHoverRadius:0, fill:false, tension:0}));
}
function dotSet(flat){
  return {data: toPts(flat), showLine:false, pointRadius:3.4, pointHoverRadius:3.4,
    backgroundColor:'#000', borderWidth:0};
}

const deco = {
  id:'deco',
  afterDatasetsDraw(chart, args, o){
    const {ctx, chartArea:ca} = chart;
    ctx.save();
    ctx.strokeStyle='#222'; ctx.lineWidth=1.6;
    ctx.strokeRect(ca.left, ca.top, ca.right-ca.left, ca.bottom-ca.top);
    ctx.fillStyle='#111'; ctx.font='bold 23px '+FONT;
    ctx.textAlign='center'; ctx.textBaseline='middle';
    ctx.fillText(o.title, (ca.left+ca.right)/2, o.titleY);
    const L=o.legend;
    ctx.fillStyle='#fff'; ctx.fillRect(L.x, L.y, L.w, L.h);
    ctx.strokeStyle='#333'; ctx.lineWidth=1.5; ctx.strokeRect(L.x, L.y, L.w, L.h);
    ctx.font='11.5px '+FONT; ctx.fillStyle='#333';
    ctx.textAlign='center';
    ctx.fillText(legendTitle, L.x+L.w/2, L.y+11);
    ctx.textAlign='left';
    const rows=[L.y+29, L.y+43, L.y+57];
    ctx.lineWidth=1.3;
    ctx.strokeStyle=COL_ABOVE; ctx.beginPath(); ctx.moveTo(L.x+4, rows[0]); ctx.lineTo(L.x+25, rows[0]); ctx.stroke();
    ctx.strokeStyle=COL_BELOW; ctx.beginPath(); ctx.moveTo(L.x+4, rows[1]); ctx.lineTo(L.x+25, rows[1]); ctx.stroke();
    ctx.fillStyle='#000'; ctx.beginPath(); ctx.arc(L.x+14.5, rows[2], 3.3, 0, Math.PI*2); ctx.fill();
    ctx.fillStyle='#333';
    legendLabels.forEach((t,i)=>ctx.fillText(t, L.x+L.tx, rows[i]));
    ctx.restore();
  }
};

function makeChart(id, cfg){
  const datasets = [...lineSets(cfg.above, COL_ABOVE), ...lineSets(cfg.below, COL_BELOW),
    ...lineSets(cfg.other || [], COL_OTHER), dotSet(cfg.dots)];
  return new Chart(document.getElementById(id), {
    type:'scatter',
    data:{datasets},
    options:{
      responsive:false, animation:false, events:[],
      layout:{padding:{top:cfg.padTop, right:cfg.padRight, left:0, bottom:0}},
      plugins:{legend:{display:false}, tooltip:{enabled:false},
        deco:{title:cfg.title, titleY:37, legend:cfg.legend}},
      scales:{
        x:{type:'linear', position:'bottom', min:cfg.xmin, max:cfg.xmax,
          afterBuildTicks:s=>{ s.ticks = xTicks.map(v=>({value:v})); },
          afterFit:s=>{ s.height = 72; },
          grid:{display:true, drawOnChartArea:false, drawTicks:true, tickLength:7, tickColor:'#222', tickWidth:1.2},
          border:{display:true, color:'#222', width:1.5},
          ticks:{padding:16, color:'#222', font:{family:FONT, size:15}, maxRotation:0, autoSkip:false},
          title:{display:true, text:'Time (years from dementia onset)', color:'#111',
            font:{family:FONT, size:20}, padding:{top:0, bottom:cfg.xTitlePad}}
        },
        y:{type:'linear', position:'left', min:cfg.ymin, max:cfg.ymax,
          afterBuildTicks:s=>{ s.ticks = cfg.yTicks.map(v=>({value:v})); },
          afterFit:s=>{ s.width = cfg.yw; },
          grid:{display:true, drawOnChartArea:false, drawTicks:true, tickLength:7, tickColor:'#222', tickWidth:1.2},
          border:{display:true, color:'#222', width:1.5},
          ticks:{padding:cfg.yTickPad, color:'#222', font:{family:FONT, size:15}, minRotation:90, maxRotation:90,
            crossAlign:'center', autoSkip:false},
          title:{display:true, text:cfg.ytitle, color:'#111', font:{family:FONT, size:20},
            padding:{top:cfg.yTitlePad, bottom:0}}
        }
      }
    },
    plugins:[deco]
  });
}

makeChart('cA', {above:A_above, below:A_below, dots:A_nofollow, title:'Panel A: Cognition',
  ytitle:'MMSE', yTicks:yTicksA, xmin:-0.56, xmax:14.33, ymin:-2.26, ymax:33.27,
  padTop:61, padRight:28, yw:88, yTickPad:10, yTitlePad:32, xTitlePad:12,
  legend:{x:287, y:267, w:116, h:71, tx:36}});
makeChart('cB', {above:B_above, below:B_below, other:B_other, dots:B_nofollow, title:'Panel B: Function',
  ytitle:'CDR-SB', yTicks:yTicksB, xmin:-0.56, xmax:14.28, ymin:-2.39, ymax:35.1,
  padTop:62, padRight:29, yw:77, yTickPad:11, yTitlePad:16, xTitlePad:9,
  legend:{x:89, y:72, w:116, h:71, tx:36}});
makeChart('cC', {above:C_above, below:C_below, other:C_other, dots:C_nofollow, title:'Panel C: Behavior (NPS)',
  ytitle:'Total NPI', yTicks:yTicksC, xmin:-0.544, xmax:14.29, ymin:-4.17, ymax:78.0,
  padTop:61, padRight:18, yw:77, yTickPad:9, yTitlePad:12, xTitlePad:4,
  legend:{x:266, y:72, w:115, h:71, tx:35}});
</script>
</body></html>
